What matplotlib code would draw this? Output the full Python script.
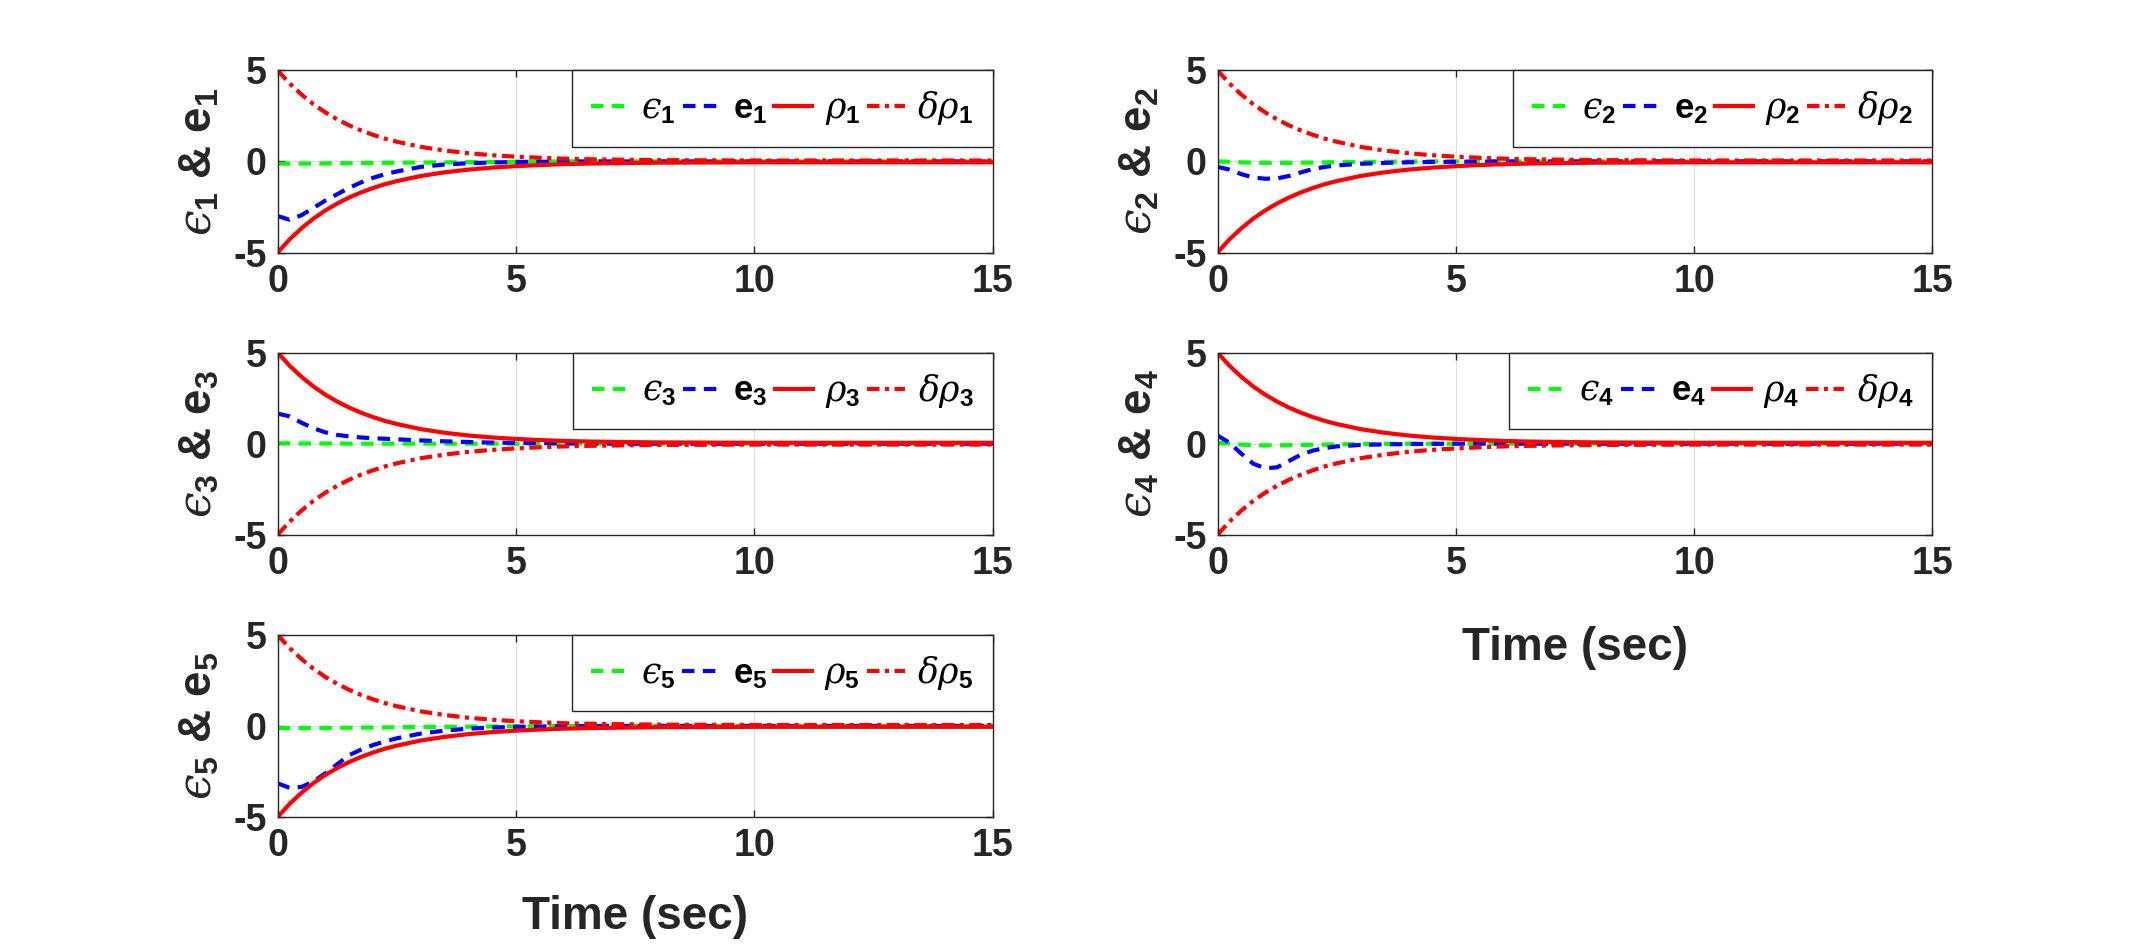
import matplotlib
matplotlib.use("Agg")
import matplotlib.pyplot as plt

# -------------------------------
# Data
# -------------------------------
t = [0, 0.25, 0.5, 0.75, 1.0, 1.25, 1.5, 1.75, 2.0, 2.25, 2.5, 3.0, 3.5, 4.0,
     4.5, 5.0, 5.5, 6.0, 6.5, 7.0, 8.0, 9.0, 10.0, 11.0, 12.0, 13.5, 15.0]

# prescribed performance magnitude (same for every agent)
rho = [5.00, 4.28, 3.67, 3.14, 2.69, 2.31, 1.98, 1.70, 1.46, 1.25, 1.08, 0.80,
       0.60, 0.45, 0.34, 0.26, 0.20, 0.15, 0.12, 0.10, 0.07, 0.06, 0.05, 0.05,
       0.05, 0.05, 0.05]
# sign of rho_i (delta*rho_i has the opposite sign)
rho_sign = [-1, -1, 1, 1, -1]

eps1 = [-0.12, -0.12, -0.12, -0.11, -0.11, -0.10, -0.10, -0.09, -0.09, -0.08,
        -0.07, -0.06, -0.05, -0.04, -0.03, -0.02, -0.01, 0, 0, 0, 0, 0, 0, 0, 0, 0, 0]
eps2 = [0.0, -0.02, -0.05, -0.07, -0.08, -0.08, -0.08, -0.07, -0.06, -0.05,
        -0.04, -0.03, -0.02, -0.01, 0, 0, 0, 0, 0, 0, 0, 0, 0, 0, 0, 0, 0]
eps3 = [0.02, 0.02, 0.01, 0.01, 0.01, 0.01, 0, 0, 0, 0, 0, 0, 0, 0,
        0, 0, 0, 0, 0, 0, 0, 0, 0, 0, 0, 0, 0]
eps4 = [0.05, 0.0, -0.05, -0.08, -0.09, -0.09, -0.08, -0.07, -0.06, -0.05,
        -0.04, -0.02, -0.01, 0, 0, 0, 0, 0, 0, 0, 0, 0, 0, 0, 0, 0, 0]
eps5 = [-0.12, -0.12, -0.12, -0.11, -0.11, -0.10, -0.10, -0.09, -0.09, -0.08,
        -0.07, -0.06, -0.05, -0.04, -0.03, -0.02, -0.01, 0, 0, 0, 0, 0, 0, 0, 0, 0, 0]

e1 = [-3.0, -3.2, -2.95, -2.55, -2.15, -1.8, -1.45, -1.15, -0.9, -0.7, -0.55,
      -0.3, -0.17, -0.1, -0.06, -0.03, -0.02, -0.01, 0, 0, 0, 0, 0, 0, 0, 0, 0]
e2 = [-0.3, -0.45, -0.7, -0.88, -0.95, -0.93, -0.8, -0.6, -0.42, -0.3, -0.22,
      -0.13, -0.08, -0.05, -0.03, -0.02, -0.01, 0, 0, 0, 0, 0, 0, 0, 0, 0, 0]
e3 = [1.65, 1.5, 1.15, 0.85, 0.62, 0.48, 0.4, 0.34, 0.3, 0.27, 0.24, 0.18,
      0.13, 0.09, 0.06, 0.04, 0.03, 0.02, 0.01, 0, 0, 0, 0, 0, 0, 0, 0]
e4 = [0.45, 0.05, -0.55, -1.1, -1.35, -1.3, -0.95, -0.6, -0.38, -0.24, -0.15,
      -0.07, -0.04, -0.02, -0.01, 0, 0, 0, 0, 0, 0, 0, 0, 0, 0, 0, 0]
e5 = [-3.15, -3.4, -3.35, -3.05, -2.6, -2.1, -1.6, -1.3, -1.05, -0.85, -0.68,
      -0.42, -0.26, -0.15, -0.09, -0.05, -0.03, -0.02, -0.01, 0, 0, 0, 0, 0, 0, 0, 0]

eps_all = [eps1, eps2, eps3, eps4, eps5]
e_all = [e1, e2, e3, e4, e5]

x_ticks = [0, 5, 10, 15]
y_ticks = [-5, 0, 5]

# -------------------------------
# Style
# -------------------------------
plt.rcParams["font.family"] = ["Liberation Sans", "DejaVu Sans"]
plt.rcParams["font.weight"] = "bold"
plt.rcParams["axes.unicode_minus"] = False
plt.rcParams["mathtext.fontset"] = "custom"
plt.rcParams["mathtext.rm"] = "Liberation Sans:bold"
plt.rcParams["mathtext.bf"] = "Liberation Sans:bold"
plt.rcParams["mathtext.it"] = "DejaVu Serif:style=italic:weight=normal"

dark = "#262626"

fig = plt.figure(figsize=(21.36, 9.44), dpi=100)

left_cols = [0.13, 0.570]
bottoms = [0.7325, 0.4335, 0.1345]
w, h = 0.3347, 0.193
# subplot index -> (row, col)
layout = [(0, 0), (0, 1), (1, 0), (1, 1), (2, 0)]

for i, (r, c) in enumerate(layout):
    n = i + 1
    ax = fig.add_axes([left_cols[c], bottoms[r], w, h])
    s = rho_sign[i]
    rho_i = [s * v for v in rho]
    drho_i = [-s * v for v in rho]

    ax.plot(t, eps_all[i], color=(0, 1, 0), lw=3, linestyle=(0, (3, 2)),
            label="$\u03f5_%d$" % n)
    ax.plot(t, e_all[i], color=(0, 0, 1), lw=3, linestyle=(0, (3, 2)),
            label=r"$\mathbf{e}_%d$" % n)
    ax.plot(t, rho_i, color=(1, 0, 0), lw=3, linestyle="-",
            label=r"$\rho_%d$" % n)
    ax.plot(t, drho_i, color=(1, 0, 0), lw=3, linestyle=(0, (3, 1.3, 1, 1.3)),
            label=r"$\delta\rho_%d$" % n)

    ax.set_xlim(0, 15)
    ax.set_ylim(-5, 5)
    ax.set_xticks(x_ticks)
    ax.set_yticks(y_ticks)
    ax.grid(True, color="#dedede", lw=0.8)
    ax.set_axisbelow(True)
    ax.tick_params(direction="in", length=5, width=1, top=True, right=True,
                   colors=dark, labelsize=27, pad=8)
    for lab in ax.get_xticklabels() + ax.get_yticklabels():
        lab.set_fontweight("bold")
    for sp in ax.spines.values():
        sp.set_color(dark)
        sp.set_linewidth(1)

    ax.set_ylabel("$\u03f5_%d$ & $\\mathbf{e}_%d$" % (n, n), fontsize=33,
                  fontweight="bold", color=dark, labelpad=8)
    if (r, c) == (2, 0):
        ax.set_xlabel("Time (sec)", fontsize=33, fontweight="bold",
                      color=dark, labelpad=22)
    if (r, c) == (1, 1):
        ax.set_xlabel("Time (sec)", fontsize=33, fontweight="bold",
                      color=dark, labelpad=32)

    leg = ax.legend(loc="upper right", ncol=4, fontsize=25, handlelength=1.1,
                    handletextpad=0.35, columnspacing=0.2, borderaxespad=0,
                    fancybox=False, framealpha=1, edgecolor=dark, borderpad=0.55)
    leg.get_frame().set_linewidth(1)

fig.savefig("out.png", dpi=100)
